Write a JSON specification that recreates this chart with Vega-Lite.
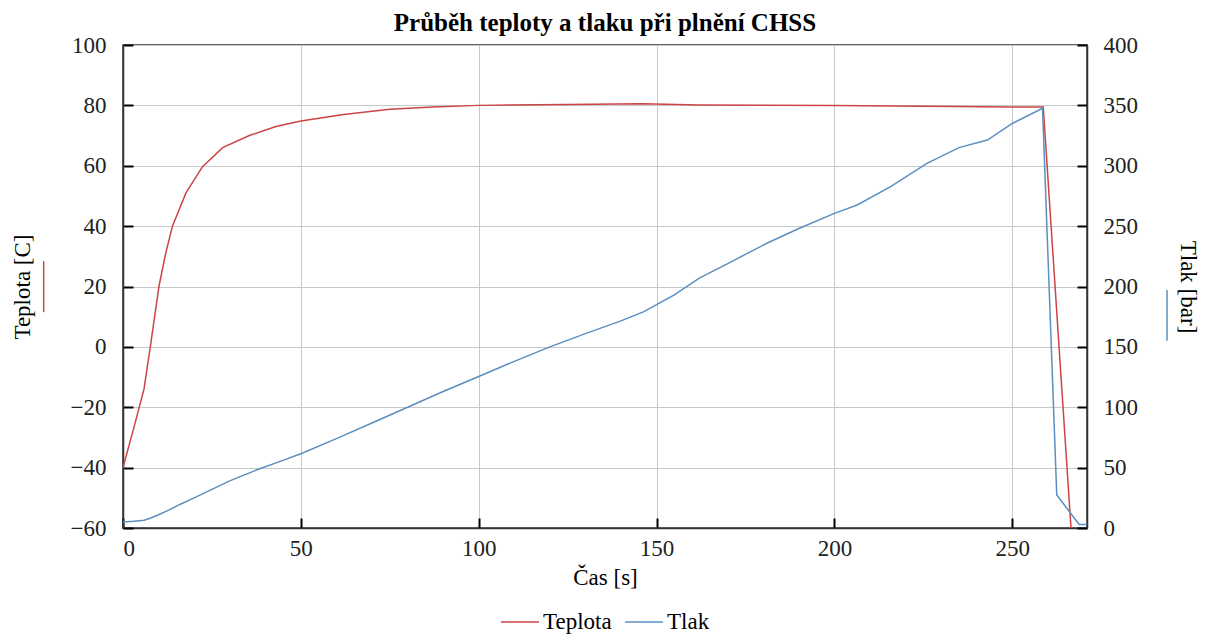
{
  "$schema": "https://vega.github.io/schema/vega-lite/v6.json",
  "width": 964,
  "height": 483,
  "autosize": {"type": "none"},
  "padding": {"left": 123, "top": 45, "right": 123, "bottom": 109},
  "background": "white",
  "title": {"text": "Průběh teploty a tlaku při plnění CHSS", "font": "Liberation Serif", "fontSize": 25, "fontWeight": "bold", "color": "#000000", "offset": -2},
  "config": {
    "font": "Liberation Serif",
    "style": {
      "guide-label": {"font": "Liberation Serif", "fontSize": 23},
      "guide-title": {"font": "Liberation Serif", "fontSize": 23, "fontWeight": "normal"}
    },
    "view": {"stroke": "#333333", "strokeWidth": 1.5},
    "axis": {
      "domainColor": "#333333",
      "domainWidth": 1.5,
      "tickColor": "#000000",
      "tickWidth": 2,
      "tickSize": -10,
      "gridColor": "#c8c8c8",
      "gridWidth": 1,
      "labelFont": "Liberation Serif",
      "labelFontSize": 23,
      "labelColor": "#222222",
      "titleFont": "Liberation Serif",
      "titleFontSize": 23,
      "titleFontWeight": "normal",
      "titleColor": "#000000"
    },
    "legend": {
      "labelFont": "Liberation Serif",
      "labelFontSize": 23,
      "labelColor": "#000000",
      "layout": {"bottom": {"anchor": "middle"}}
    }
  },
  "datasets": {
    "teplota": [
      {"cas": 0, "teplota": -40},
      {"cas": 3, "teplota": -27},
      {"cas": 5.9, "teplota": -14},
      {"cas": 7.8, "teplota": 1},
      {"cas": 10.1, "teplota": 20},
      {"cas": 12, "teplota": 31},
      {"cas": 13.9, "teplota": 40},
      {"cas": 17.7, "teplota": 51},
      {"cas": 22.3, "teplota": 59.6},
      {"cas": 28, "teplota": 66},
      {"cas": 35.5, "teplota": 70},
      {"cas": 43, "teplota": 73},
      {"cas": 50, "teplota": 74.8},
      {"cas": 62, "teplota": 77},
      {"cas": 75, "teplota": 78.7},
      {"cas": 87, "teplota": 79.5},
      {"cas": 100, "teplota": 80},
      {"cas": 125, "teplota": 80.3},
      {"cas": 146, "teplota": 80.5},
      {"cas": 162, "teplota": 80.1},
      {"cas": 200, "teplota": 80},
      {"cas": 250, "teplota": 79.5},
      {"cas": 258.7, "teplota": 79.5},
      {"cas": 262.5, "teplota": 11.5},
      {"cas": 266.5, "teplota": -60}
    ],
    "tlak": [
      {"cas": 0, "tlak": 5},
      {"cas": 3, "tlak": 5.5},
      {"cas": 6, "tlak": 6.5},
      {"cas": 8, "tlak": 8.5},
      {"cas": 10, "tlak": 11},
      {"cas": 13, "tlak": 15},
      {"cas": 16, "tlak": 19.5},
      {"cas": 20, "tlak": 25},
      {"cas": 25, "tlak": 32},
      {"cas": 30, "tlak": 39},
      {"cas": 37.5, "tlak": 48},
      {"cas": 44, "tlak": 55},
      {"cas": 50, "tlak": 61.5},
      {"cas": 60, "tlak": 74},
      {"cas": 70, "tlak": 87},
      {"cas": 80, "tlak": 100},
      {"cas": 90, "tlak": 113},
      {"cas": 100, "tlak": 125.5},
      {"cas": 110, "tlak": 138},
      {"cas": 120, "tlak": 150},
      {"cas": 130, "tlak": 161},
      {"cas": 140, "tlak": 171.5},
      {"cas": 146.3, "tlak": 179},
      {"cas": 150, "tlak": 185},
      {"cas": 155, "tlak": 193},
      {"cas": 162, "tlak": 207},
      {"cas": 170, "tlak": 219},
      {"cas": 181, "tlak": 235.8},
      {"cas": 190, "tlak": 248},
      {"cas": 200, "tlak": 260.6},
      {"cas": 206.4, "tlak": 267.5},
      {"cas": 215.8, "tlak": 282.7},
      {"cas": 226, "tlak": 302},
      {"cas": 235, "tlak": 315},
      {"cas": 243, "tlak": 321.3},
      {"cas": 250, "tlak": 335},
      {"cas": 258.5, "tlak": 347.6},
      {"cas": 262.5, "tlak": 27.3},
      {"cas": 268.8, "tlak": 3},
      {"cas": 271, "tlak": 3}
    ]
  },
  "layer": [
    {
      "layer": [
        {
          "data": {"name": "teplota"},
          "mark": {"type": "line", "strokeWidth": 1.5, "clip": true},
          "encoding": {
            "x": {
              "field": "cas", "type": "quantitative",
              "scale": {"domain": [0, 271], "nice": false, "zero": false},
              "axis": {"title": "Čas [s]", "values": [0, 50, 100, 150, 200, 250], "labelFont": "Liberation Serif", "labelFontSize": 23, "titleFont": "Liberation Serif", "titleFontSize": 23, "titleFontWeight": "normal", "labelPadding": 19, "titlePadding": 6, "grid": true}
            },
            "y": {
              "field": "teplota", "type": "quantitative",
              "scale": {"domain": [-60, 100], "nice": false, "zero": false},
              "axis": {"title": "Teplota [C]", "values": [-60, -40, -20, 0, 20, 40, 60, 80, 100], "labelFont": "Liberation Serif", "labelFontSize": 23, "titleFont": "Liberation Serif", "titleFontSize": 23, "titleFontWeight": "normal", "labelPadding": 27, "titlePadding": 36, "grid": true}
            },
            "color": {
              "datum": "Teplota", "type": "nominal",
              "scale": {"domain": ["Teplota", "Tlak"], "range": ["#cc4444", "#5b8fc0"]},
              "legend": {"title": null, "orient": "bottom", "direction": "horizontal", "symbolType": "stroke", "symbolSize": 1444, "symbolStrokeWidth": 1.5, "labelOffset": 3, "columnPadding": 10, "offset": 13, "labelFont": "Liberation Serif", "labelFontSize": 23}
            }
          }
        },
        {
          "data": {"values": [{}]},
          "mark": {"type": "rule", "color": "#cc4444", "strokeWidth": 1.5, "clip": false},
          "encoding": {
            "x": {"datum": -22.3, "type": "quantitative"},
            "y": {"datum": 28.4, "type": "quantitative"},
            "y2": {"datum": 11.5}
          }
        }
      ]
    },
    {
      "layer": [
        {
          "data": {"name": "tlak"},
          "mark": {"type": "line", "strokeWidth": 1.5, "clip": true},
          "encoding": {
            "x": {"field": "cas", "type": "quantitative"},
            "y": {
              "field": "tlak", "type": "quantitative",
              "scale": {"domain": [0, 400], "nice": false},
              "axis": {"title": "Tlak [bar]", "orient": "right", "values": [0, 50, 100, 150, 200, 250, 300, 350, 400], "labelFont": "Liberation Serif", "labelFontSize": 23, "titleFont": "Liberation Serif", "titleFontSize": 23, "titleFontWeight": "normal", "labelPadding": 26, "titlePadding": 38, "grid": false}
            },
            "color": {"datum": "Tlak", "type": "nominal"}
          }
        },
        {
          "data": {"values": [{}]},
          "mark": {"type": "rule", "color": "#5b8fc0", "strokeWidth": 1.5, "clip": false},
          "encoding": {
            "x": {"datum": 293.5, "type": "quantitative"},
            "y": {"datum": 197, "type": "quantitative"},
            "y2": {"datum": 155}
          }
        }
      ]
    }
  ],
  "resolve": {"scale": {"y": "independent"}}
}
